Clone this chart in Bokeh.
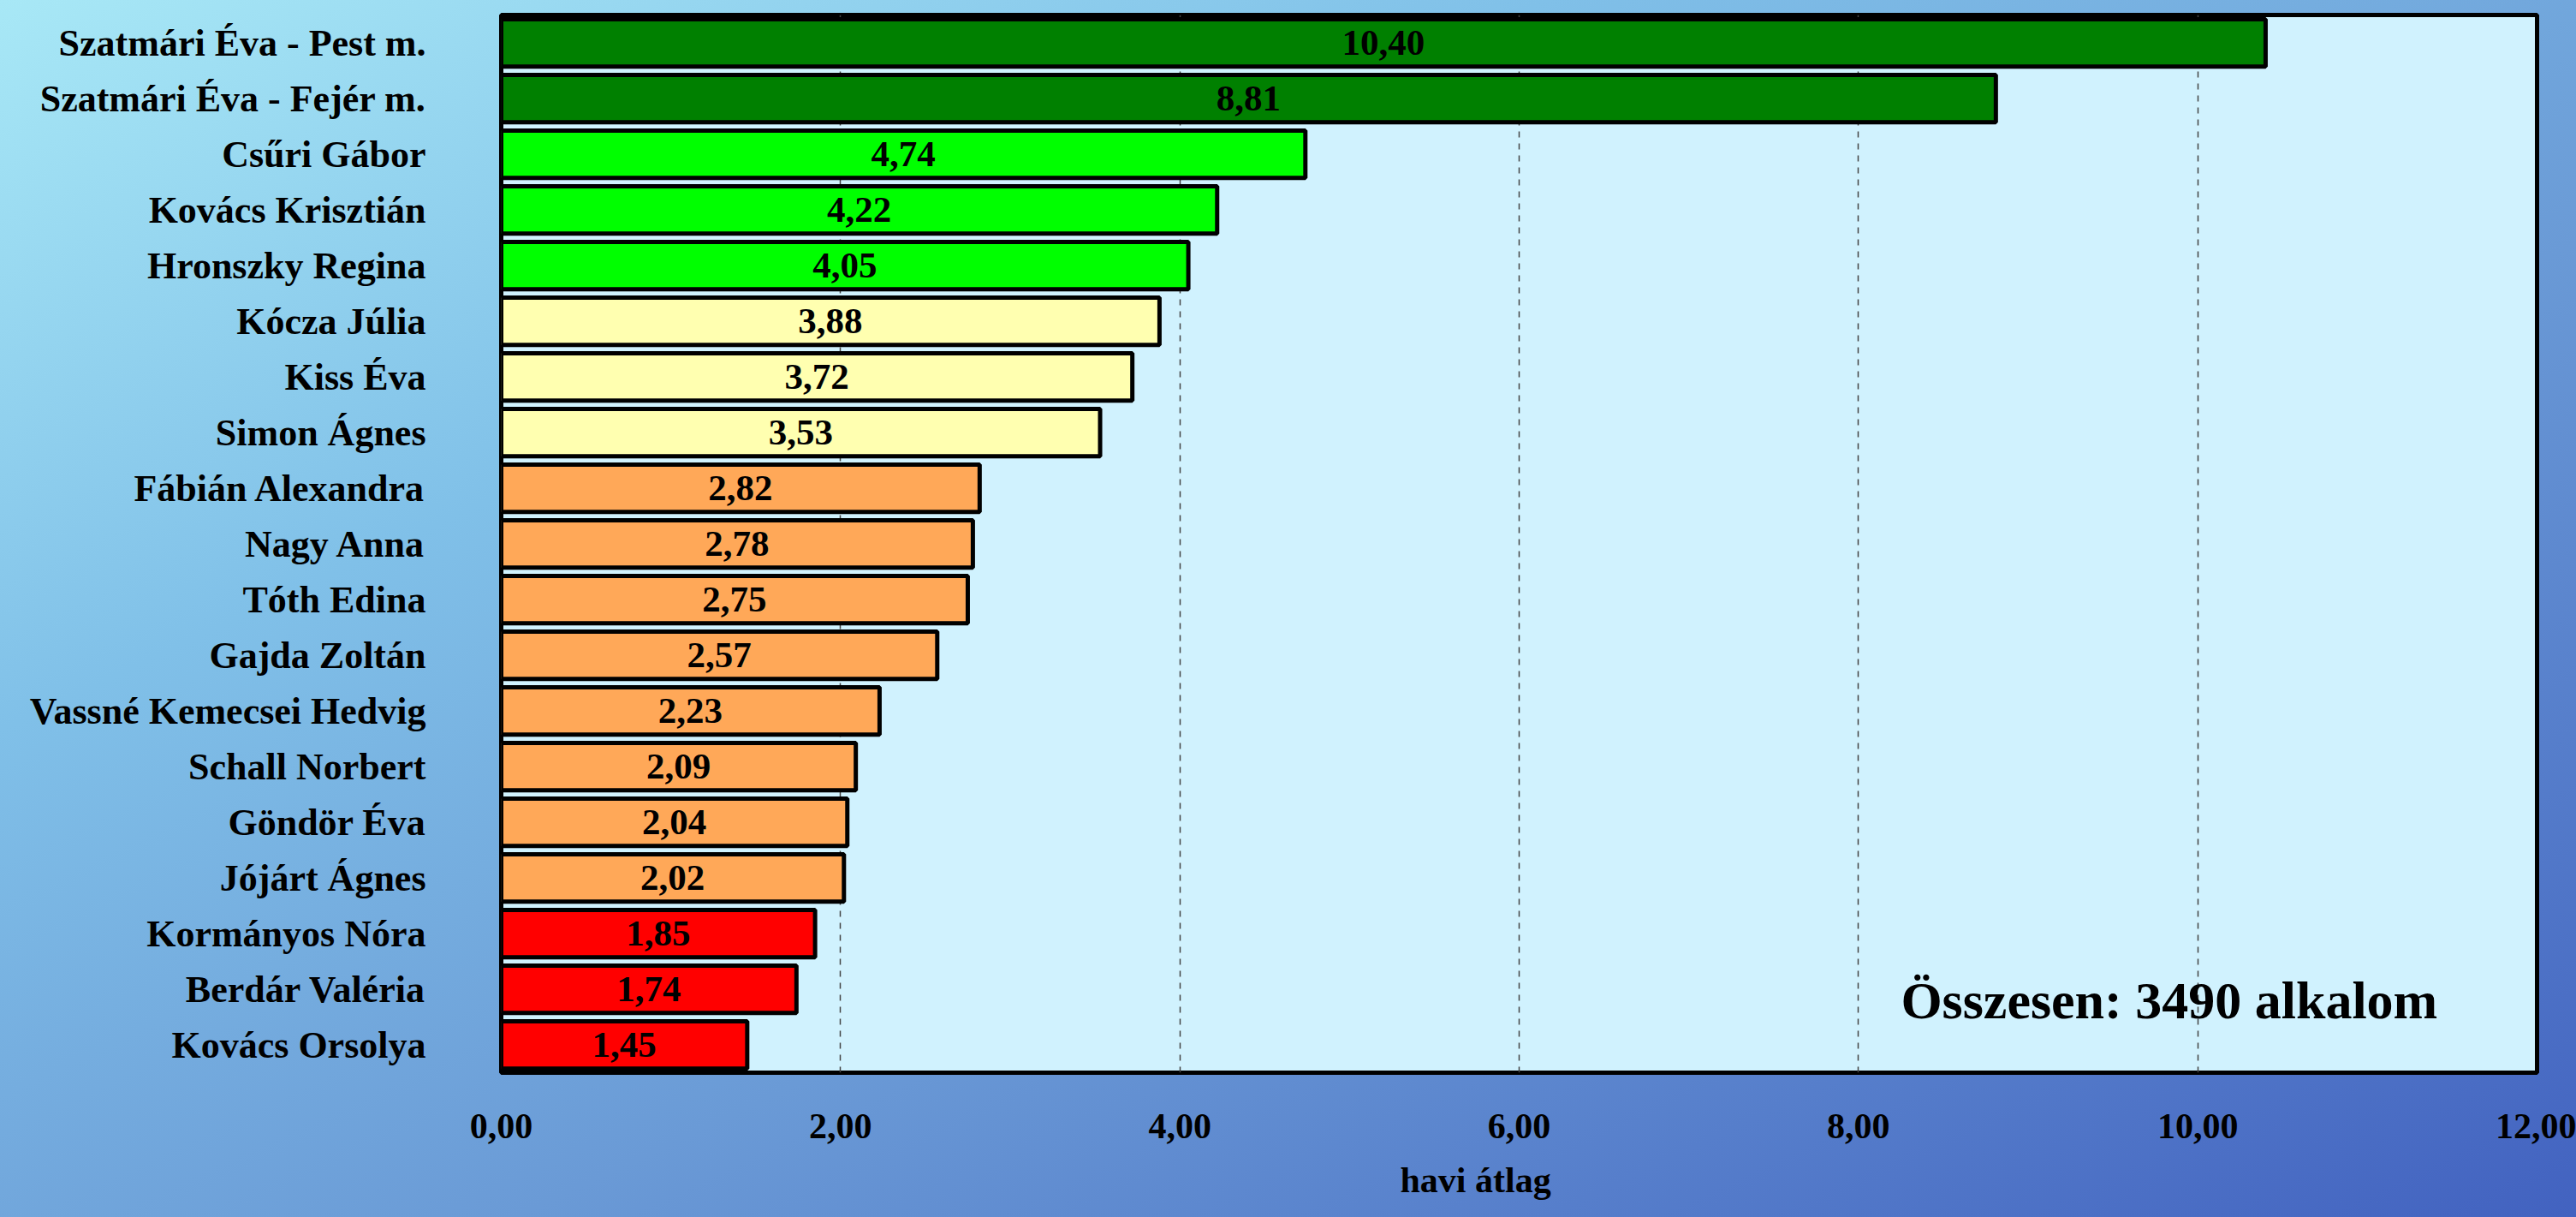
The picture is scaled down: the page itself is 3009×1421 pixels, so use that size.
from bokeh.plotting import figure
from bokeh.models import (ColumnDataSource, FactorRange, Range1d, FixedTicker,
                          CustomJSTickFormatter, Label, Title)
from bokeh.core.properties import value
from bokeh.embed import file_html
from bokeh.resources import INLINE

names = ["Szatmári Éva - Pest m.", "Szatmári Éva - Fejér m.", "Csűri Gábor",
         "Kovács Krisztián", "Hronszky Regina", "Kócza Júlia", "Kiss Éva",
         "Simon Ágnes", "Fábián Alexandra", "Nagy Anna", "Tóth Edina",
         "Gajda Zoltán", "Vassné Kemecsei Hedvig", "Schall Norbert",
         "Göndör Éva", "Jójárt Ágnes", "Kormányos Nóra", "Berdár Valéria",
         "Kovács Orsolya"]
values = [10.40, 8.81, 4.74, 4.22, 4.05, 3.88, 3.72, 3.53, 2.82, 2.78, 2.75,
          2.57, 2.23, 2.09, 2.04, 2.02, 1.85, 1.74, 1.45]
groups = ["dg", "dg", "lg", "lg", "lg", "y", "y", "y", "o", "o", "o", "o",
          "o", "o", "o", "o", "r", "r", "r"]
palette = {"dg": "#008000", "lg": "#00FF00", "y": "#FFFFB0", "o": "#FFA858",
           "r": "#FF0000"}
x_ticks = [0, 2, 4, 6, 8, 10, 12]
total_text = "Összesen: 3490 alkalom"
x_title = "havi átlag"

FONT = value("Liberation Serif")

src = ColumnDataSource(dict(
    name=names,
    val=values,
    mid=[v / 2 for v in values],
    color=[palette[g] for g in groups],
    label=[f"{v:.2f}".replace(".", ",") for v in values],
))

p = figure(width=3009, height=1421, output_backend="svg", toolbar_location=None,
           y_range=FactorRange(factors=list(reversed(names))),
           x_range=Range1d(0, 12))

p.min_border_left = 585
p.min_border_right = 46
p.min_border_top = 17
p.min_border_bottom = 167

p.border_fill_alpha = 0
p.styles = {"background": "linear-gradient(to bottom right, #a8e8f6 0%, #80c0e8 30%, #6a9ad6 60%, #4262c0 100%)"}
p.background_fill_color = "#D0F2FE"
p.outline_line_color = "black"
p.outline_line_width = 5

p.hbar(y="name", left=0, right="val", height=0.85, source=src,
       fill_color="color", line_color="black", line_width=5)

p.text(x="mid", y="name", text="label", source=src, text_font=FONT,
       text_font_style="bold", text_font_size="43px", text_align="center",
       text_baseline="middle", text_color="black")

p.xaxis.ticker = FixedTicker(ticks=x_ticks)
p.xaxis.formatter = CustomJSTickFormatter(code="return tick.toFixed(2).replace('.', ',');")
p.xgrid.ticker = FixedTicker(ticks=x_ticks)
p.xgrid.grid_line_color = "#444444"
p.xgrid.grid_line_dash = "7 7"
p.xgrid.grid_line_width = 1.5
p.ygrid.grid_line_color = None

for ax in (p.xaxis[0], p.yaxis[0]):
    ax.axis_line_color = None
    ax.major_tick_line_color = None
    ax.minor_tick_line_color = None
    ax.major_label_text_font = "Liberation Serif"
    ax.major_label_text_font_style = "bold"
    ax.major_label_text_font_size = "42px"
    ax.major_label_text_color = "black"

p.yaxis.major_label_text_font_size = "44px"
p.xaxis.major_label_standoff = 42
p.yaxis.major_label_standoff = 82

# second factor from the bottom sits at synthetic coordinate 1.5
p.add_layout(Label(x=8.25, y=1.5, y_offset=-13, text=total_text,
                   text_font="Liberation Serif", text_font_style="bold",
                   text_font_size="62px", text_baseline="middle",
                   text_color="black"))

p.add_layout(Title(text=x_title, align="left", offset=1050, standoff=42,
                   text_font="Liberation Serif", text_font_style="bold",
                   text_font_size="42px", text_color="black"), "below")

open("out.html", "w").write(file_html(p, INLINE))
